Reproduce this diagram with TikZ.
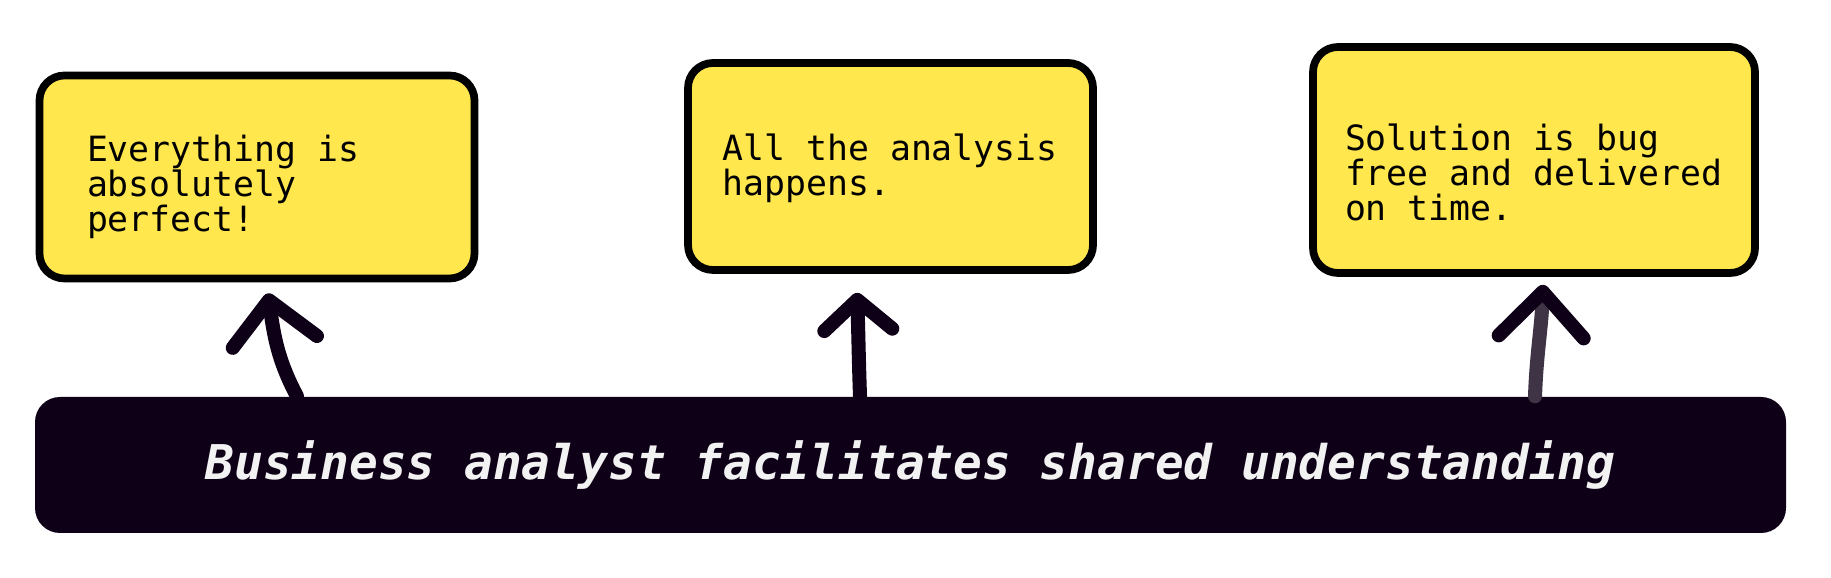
\documentclass[tikz,border=0pt]{standalone}
\usepackage{fontspec}
\setmonofont{DejaVu Sans Mono}
\usetikzlibrary{calc, positioning, arrows.meta}
\definecolor{stickyyellow}{HTML}{FFE74D}
\definecolor{inkdark}{HTML}{0E0016}
\definecolor{inkgray}{HTML}{3E3446}
\definecolor{barwhite}{HTML}{F2F2F2}
\newcommand{\toppad}[1]{\rule{0pt}{#1}}

\begin{document}
\begin{tikzpicture}[
    box/.style={draw=black, line width=2.2pt, fill=stickyyellow, rounded corners=0.25cm, inner xsep=0.3cm, align=flush left, font=\ttfamily\fontsize{9.9pt}{9.96pt}\selectfont},
    bar/.style={fill=inkdark, rounded corners=0.25cm, minimum width=17.51cm, minimum height=1.36cm, text=barwhite, font=\ttfamily\bfseries\itshape\fontsize{13.6pt}{15pt}\selectfont},
    arrow/.style={line width=4pt, draw=inkdark, line cap=round}
]
\useasboundingbox (0,0) rectangle (18.31,5.78);

\node[box, minimum width=4.35cm, minimum height=2.03cm, text width=3.40cm] (box1) at (2.57,4.01) {\toppad{0.46cm}Everything is\\absolutely\\perfect!};
\node[box, minimum width=4.05cm, minimum height=2.07cm, text width=3.36cm] (box2) at (8.905,4.115) {\toppad{0.30cm}All the analysis\\happens.};
\node[box, minimum width=4.42cm, minimum height=2.26cm, text width=3.78cm] (box3) at (15.34,4.18) {\toppad{0.52cm}Solution is bug\\free and delivered\\on time.};

\node[bar] (bar) at (9.105,1.13) {Business analyst facilitates shared understanding};

\draw[arrow, -{Straight Barb[round, length=0.42cm, width=0.85cm]}] ($(box1.south |- bar.north)+(0.40,0)$) to[out=118, in=-82] ($(box1.south)+(0.11,-0.11)$);
\draw[arrow, -{Straight Barb[round, length=0.30cm, width=0.68cm]}] ($(box2.south |- bar.north)+(-0.305,0)$) to[out=92, in=-88] ($(box2.south)+(-0.335,-0.19)$);
\draw[arrow, draw=inkgray, -{Straight Barb[round, length=0.45cm, width=0.85cm, color=inkdark]}] ($(box3.south |- bar.north)+(0.01,0)$) to[out=88, in=-92] ($(box3.south)+(0.09,-0.08)$);
\end{tikzpicture}
\end{document}
